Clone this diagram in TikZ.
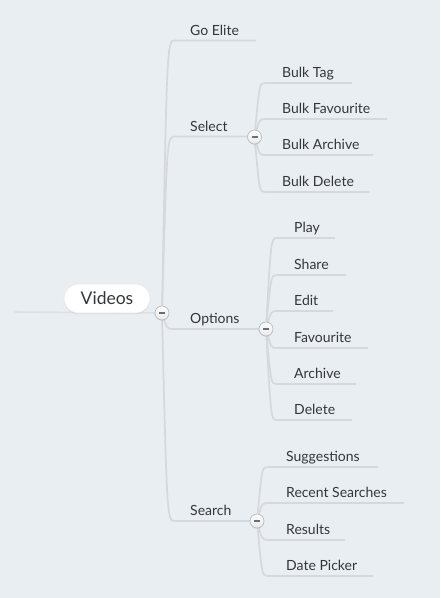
\documentclass[tikz,border=0pt]{standalone}
\usepackage{fontspec}
\setmainfont{Lato}
\usetikzlibrary{shadows,calc}
\definecolor{bgc}{HTML}{E9EEF2}
\definecolor{linec}{HTML}{D5D9DD}
\definecolor{txtc}{HTML}{33373C}
\definecolor{circd}{HTML}{B8BDC2}
\definecolor{minusc}{HTML}{6A6F74}
\pgfdeclarelayer{bg}
\pgfsetlayers{bg,main}
\tikzset{
  conn/.style={draw=linec, line width=1.7pt},
  lbl/.style={anchor=base west, inner sep=0pt, text=txtc, font=\fontsize{14}{16}\selectfont},
  tog/.style={circle, minimum size=14pt, inner sep=0pt, draw=circd, line width=0.7pt,
    top color=white, bottom color=black!9,
    drop shadow={opacity=0.15, shadow xshift=0pt, shadow yshift=-0.8pt},
    path picture={\draw[minusc, line width=1.4pt] ([xshift=-3pt]path picture bounding box.center) -- ([xshift=3pt]path picture bounding box.center);}},
  rootbox/.style={rounded corners=14.5pt, minimum width=86pt, minimum height=29pt, inner sep=0pt,
    fill=white, draw=black!9, line width=0.6pt, text=txtc, font=\fontsize{17.5}{20}\selectfont,
    drop shadow={opacity=0.15, shadow xshift=0pt, shadow yshift=-1.2pt}}
}
% #1 parent toggle, #2 parent x, #3 line y, #4 corner end x, #5 line end x, #6 name
\newcommand\twig[6]{%
  \coordinate (#6-a) at (#4,#3);
  \coordinate (#6-b) at (#5,#3);
  \draw[conn] (#1.center) .. controls (#2+5,#3) and (#2+5,#3) .. (#6-a) -- (#6-b);
}
\begin{document}
\begin{tikzpicture}[x=1pt,y=-1pt]
\begin{pgfonlayer}{bg}
  \fill[bgc] (0,0) rectangle (440,598);
\end{pgfonlayer}
\useasboundingbox (0,0) rectangle (440,598);

% root
\node[rootbox] (root) at (107,298.5) {Videos};
\node[tog] (tR) at (162,313) {};
\node[tog] (tSel) at (254.5,137) {};
\node[tog] (tOpt) at (266,329) {};
\node[tog] (tSea) at (257,521) {};

% first level labels
\node[lbl] (goelite) at (190,35) {Go Elite};
\node[lbl] (select) at (190,131) {Select};
\node[lbl] (options) at (190,323.5) {Options};
\node[lbl] (search) at (190,515.5) {Search};

% select children
\node[lbl] (btag) at (282,77) {Bulk Tag};
\node[lbl] (bfav) at (282,113) {Bulk Favourite};
\node[lbl] (barc) at (282,149.5) {Bulk Archive};
\node[lbl] (bdel) at (282,186) {Bulk Delete};

% options children
\node[lbl] (play) at (294,232.5) {Play};
\node[lbl] (share) at (294,269) {Share};
\node[lbl] (edit) at (294,305.5) {Edit};
\node[lbl] (fav) at (294,342) {Favourite};
\node[lbl] (arc) at (294,378.5) {Archive};
\node[lbl] (del) at (294,414.5) {Delete};

% search children
\node[lbl] (sug) at (286,461.5) {Suggestions};
\node[lbl] (rec) at (286,497.5) {Recent Searches};
\node[lbl] (res) at (286,534) {Results};
\node[lbl] (dat) at (286,570) {Date Picker};

\begin{pgfonlayer}{bg}
  \coordinate (lead) at (15,312);
  \draw[draw=linec!65!bgc, line width=1.6pt] (lead) -- (tR.center);
  % root branches
  \twig{tR}{162}{40.5}{175}{256}{gE}
  \twig{tR}{162}{136.5}{175}{254.5}{gS}
  \twig{tR}{162}{329}{174}{266}{gO}
  \twig{tR}{162}{521}{175}{257}{gR}
  % select branches
  \twig{tSel}{254.5}{83}{265}{352}{s1}
  \twig{tSel}{254.5}{119}{265}{387}{s2}
  \twig{tSel}{254.5}{155}{265}{373}{s3}
  \twig{tSel}{254.5}{192}{265}{369}{s4}
  % options branches
  \twig{tOpt}{266}{238}{277}{335}{o1}
  \twig{tOpt}{266}{275}{277}{346}{o2}
  \twig{tOpt}{266}{311}{277}{333}{o3}
  \twig{tOpt}{266}{348}{277}{368}{o4}
  \twig{tOpt}{266}{384}{277}{356}{o5}
  \twig{tOpt}{266}{420}{277}{352}{o6}
  % search branches
  \twig{tSea}{257}{467}{268}{378}{r1}
  \twig{tSea}{257}{503}{268}{404}{r2}
  \twig{tSea}{257}{540}{268}{345}{r3}
  \twig{tSea}{257}{576}{268}{373}{r4}
\end{pgfonlayer}
\end{tikzpicture}
\end{document}
